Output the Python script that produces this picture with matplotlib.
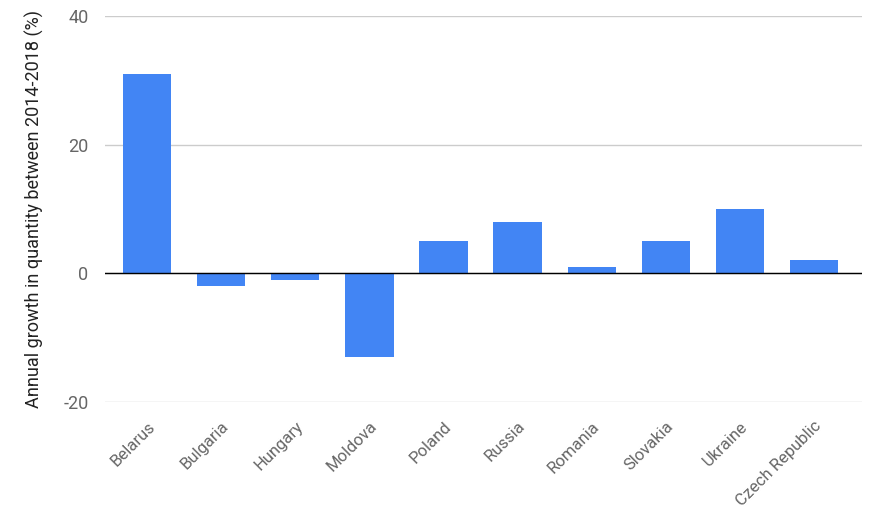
import matplotlib.pyplot as plt

plt.rcParams['font.family'] = ['Roboto', 'DejaVu Sans']

# data
countries = ["Belarus", "Bulgaria", "Hungary", "Moldova", "Poland",
             "Russia", "Romania", "Slovakia", "Ukraine", "Czech Republic"]
growth = [31, -2, -1, -13, 5, 8, 1, 5, 10, 2]
yticks = [-20, 0, 20, 40]

fig = plt.figure(figsize=(8.71, 5.26), dpi=100)
ax = fig.add_axes([0.1206, 0.2357, 0.869, 0.7339])

x = range(len(countries))
ax.bar(x, growth, width=0.65, color="#4285f4", zorder=3)

ax.set_ylim(-20, 40)
ax.set_xlim(-0.57, 9.65)
ax.set_yticks(yticks)
ax.set_yticklabels([str(v) for v in yticks], color="#666666", fontsize=13)
ax.yaxis.grid(True, color="#cccccc", linewidth=1, zorder=0)
ax.axhline(0, color="black", linewidth=1, zorder=4)
ax.tick_params(axis="both", length=0, pad=12)
ax.set_xticks(list(x))
ax.set_xticklabels(countries, rotation=45, ha="right", rotation_mode="anchor",
                   color="#666666", fontsize=12)
for s in ax.spines.values():
    s.set_visible(False)
ax.set_ylabel("Annual growth in quantity between 2014-2018 (%)", fontsize=13,
              color="#222222", labelpad=14)

fig.savefig("out.png", dpi=100)
